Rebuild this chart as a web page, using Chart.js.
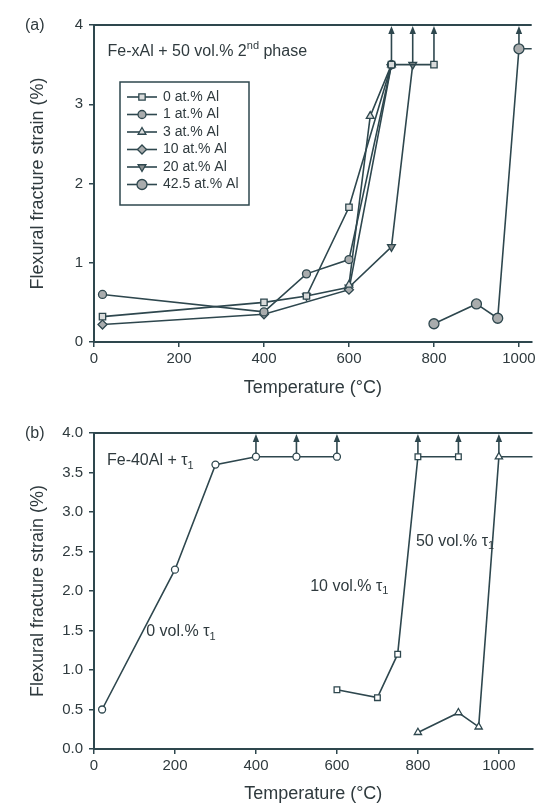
<!DOCTYPE html>
<html><head><meta charset="utf-8">
<script src="https://cdn.jsdelivr.net/npm/chart.js@4.4.1/dist/chart.umd.min.js"></script>
<style>
html,body{margin:0;padding:0;background:#fff;}
#wrap{position:relative;width:538px;height:805px;overflow:hidden;background:#fff;}
canvas{position:absolute;left:0;}
</style></head><body>
<div id="wrap">
<canvas id="ca" width="538" height="400" style="top:0px"></canvas>
<canvas id="cb" width="538" height="405" style="top:400px"></canvas>
</div>
<script>
// ---------- data ----------
const xTicks = [0, 200, 400, 600, 800, 1000];
const yTicksA = [0, 1, 2, 3, 4];
const yTicksB = [0, 0.5, 1, 1.5, 2, 2.5, 3, 3.5, 4];

// panel (a): Fe-xAl + 50 vol.% 2nd phase
const labelsA = ['0 at.% Al', '1 at.% Al', '3 at.% Al', '10 at.% Al', '20 at.% Al', '42.5 at.% Al'];
const tempA0 = [20, 400, 500, 600, 700, 800];   const strainA0 = [0.32, 0.50, 0.58, 1.70, 3.50, 3.50];
const tempA1 = [20, 400, 500, 600, 700];        const strainA1 = [0.60, 0.38, 0.86, 1.04, 3.50];
const tempA3 = [600, 650, 700];                 const strainA3 = [0.72, 2.85, 3.50];
const tempA10 = [20, 400, 600, 700];            const strainA10 = [0.22, 0.35, 0.66, 3.50];
const tempA20 = [500, 600, 700, 750];           const strainA20 = [0.58, 0.69, 1.20, 3.50];
const tempA42 = [800, 900, 950, 1000, 1100];    const strainA42 = [0.23, 0.48, 0.30, 3.70, 3.70];
const arrowTempA = [700, 750, 800, 1000];
const arrowStrainA = [3.5, 3.5, 3.5, 3.7];

// panel (b): Fe-40Al + tau1
const tempB0 = [20, 200, 300, 400, 500, 600];   const strainB0 = [0.50, 2.27, 3.60, 3.70, 3.70, 3.70];
const tempB10 = [600, 700, 750, 800, 900];      const strainB10 = [0.75, 0.65, 1.20, 3.70, 3.70];
const tempB50 = [800, 900, 950, 1000, 1100];    const strainB50 = [0.21, 0.46, 0.28, 3.70, 3.70];
const arrowTempB = [400, 500, 600, 800, 900, 1000];
const arrowStrainB = [3.7, 3.7, 3.7, 3.7, 3.7, 3.7];

// ---------- style ----------
const LINE = '#2e474e';
const TEXT = '#2f3a3e';
const FONT = "'Liberation Sans', Arial, Helvetica, sans-serif";

function pts(xs, ys) { return xs.map((x, i) => ({x: x, y: ys[i]})); }

function ds(label, xs, ys, style, radius, fill, rot) {
  return {
    label: label, data: pts(xs, ys), borderColor: LINE, borderWidth: 1.6,
    pointStyle: style, pointRadius: radius, pointBackgroundColor: fill,
    pointBorderColor: LINE, pointBorderWidth: 1.3, pointRotation: rot || 0,
    tension: 0, fill: false
  };
}

function drawText(ctx, parts, x, y, size) {
  // parts: [text, mode] mode: 'n' normal, 'sub', 'sup'
  let cx = x;
  ctx.textBaseline = 'middle';
  ctx.textAlign = 'left';
  ctx.fillStyle = TEXT;
  for (const [t, m] of parts) {
    const s = m === 'n' ? size : Math.round(size * 0.68);
    const dy = m === 'sub' ? size * 0.32 : (m === 'sup' ? -size * 0.35 : 0);
    ctx.font = s + 'px ' + FONT;
    ctx.fillText(t, cx, y + dy);
    cx += ctx.measureText(t).width;
  }
}

function extrasPlugin(opts) {
  return {
    id: 'extras',
    beforeDatasetsDraw(chart) {
      const ctx = chart.ctx, xs = chart.scales.x, ys = chart.scales.y, top = chart.chartArea.top;
      ctx.save();
      ctx.strokeStyle = LINE; ctx.fillStyle = LINE; ctx.lineWidth = 1.6;
      opts.arrowT.forEach((t, i) => {
        const px = xs.getPixelForValue(t), py = ys.getPixelForValue(opts.arrowS[i]);
        ctx.beginPath(); ctx.moveTo(px, py); ctx.lineTo(px, top + 6); ctx.stroke();
        ctx.beginPath(); ctx.moveTo(px, top + 1); ctx.lineTo(px - 3.2, top + 9); ctx.lineTo(px + 3.2, top + 9);
        ctx.closePath(); ctx.fill();
      });
      ctx.restore();
    },
    afterDraw(chart) {
      const ctx = chart.ctx, a = chart.chartArea, xs = chart.scales.x, ys = chart.scales.y;
      ctx.save();
      // top frame line
      ctx.strokeStyle = LINE; ctx.lineWidth = 2;
      ctx.beginPath(); ctx.moveTo(a.left - 1, a.top); ctx.lineTo(a.right, a.top); ctx.stroke();
      // panel letter
      drawText(ctx, [[opts.letter, 'n']], 25, a.top + 1, 16);
      // annotations
      opts.notes.forEach(n => drawText(ctx, n.parts, xs.getPixelForValue(n.x), ys.getPixelForValue(n.y), n.size));
      // legend
      if (opts.legend) {
        const L = a.left + 26, T = a.top + 57, W = 129, H = 123, rowH = 17.5;
        ctx.strokeStyle = LINE; ctx.lineWidth = 1.5;
        ctx.strokeRect(L, T, W, H);
        chart.data.datasets.forEach((d, i) => {
          const y = T + 15 + i * rowH, x0 = L + 7, x1 = L + 37, xm = (x0 + x1) / 2;
          ctx.strokeStyle = LINE; ctx.lineWidth = 1.6;
          ctx.beginPath(); ctx.moveTo(x0, y); ctx.lineTo(x1, y); ctx.stroke();
          ctx.fillStyle = d.pointBackgroundColor; ctx.strokeStyle = LINE; ctx.lineWidth = 1.3;
          Chart.helpers.drawPoint(ctx, {pointStyle: d.pointStyle, radius: d.pointRadius, rotation: d.pointRotation, borderWidth: 1.3}, xm, y);
          drawText(ctx, [[d.label, 'n']], L + 43, y, 14);
        });
      }
      ctx.restore();
    }
  };
}

function makeChart(id, datasets, xMax, yTicks, yFmt, topPad, xH, xTitlePad, opts) {
  return new Chart(document.getElementById(id), {
    type: 'line',
    data: {datasets: datasets},
    options: {
      responsive: false, animation: false, devicePixelRatio: 1,
      layout: {padding: {top: topPad, left: 0, right: 0, bottom: 0}},
      plugins: {legend: {display: false}, tooltip: {enabled: false}},
      scales: {
        x: {
          type: 'linear', min: 0, max: xMax,
          afterBuildTicks: s => { s.ticks = xTicks.map(v => ({value: v})); },
          afterFit: s => { s.height = xH; s.paddingLeft = 0; s.paddingRight = 0; },
          ticks: {color: TEXT, font: {family: FONT, size: 15}, padding: 3, maxRotation: 0, callback: v => String(v)},
          grid: {drawOnChartArea: false, drawTicks: true, tickLength: 5, color: LINE, lineWidth: 1.5},
          border: {display: true, color: LINE, width: 2},
          title: {display: true, text: 'Temperature (°C)', color: TEXT, font: {family: FONT, size: 18}, padding: {top: 0, bottom: xTitlePad}}
        },
        y: {
          type: 'linear', min: 0, max: 4,
          afterBuildTicks: s => { s.ticks = yTicks.map(v => ({value: v})); },
          afterFit: s => { s.width = 94; },
          ticks: {color: TEXT, font: {family: FONT, size: 15}, padding: 6, callback: yFmt},
          grid: {drawOnChartArea: false, drawTicks: true, tickLength: 5, color: LINE, lineWidth: 1.5},
          border: {display: true, color: LINE, width: 2},
          title: {display: true, text: 'Flexural fracture strain (%)', color: TEXT, font: {family: FONT, size: 18}, padding: {top: 27, bottom: 0}}
        }
      }
    },
    plugins: [extrasPlugin(opts)]
  });
}

const GREY = '#a9acad', LIGHT = '#d9dbdb', WHITE = '#ffffff';

makeChart('ca', [
  ds(labelsA[0], tempA0, strainA0, 'rect', 4.5, LIGHT),
  ds(labelsA[1], tempA1, strainA1, 'circle', 4, GREY),
  ds(labelsA[2], tempA3, strainA3, 'triangle', 4.5, LIGHT),
  ds(labelsA[3], tempA10, strainA10, 'rectRot', 4.5, GREY),
  ds(labelsA[4], tempA20, strainA20, 'triangle', 4.5, '#8a8f90', 180),
  ds(labelsA[5], tempA42, strainA42, 'circle', 5, GREY)
], 1030, yTicksA, v => String(v), 25, 58, 1, {
  letter: '(a)', arrowT: arrowTempA, arrowS: arrowStrainA, legend: true,
  notes: [{x: 32, y: 3.67, size: 16, parts: [['Fe-xAl + 50 vol.% 2', 'n'], ['nd', 'sup'], [' phase', 'n']]}]
});

makeChart('cb', [
  ds('0 vol.% τ1', tempB0, strainB0, 'circle', 3.5, WHITE),
  ds('10 vol.% τ1', tempB10, strainB10, 'rect', 4, WHITE),
  ds('50 vol.% τ1', tempB50, strainB50, 'triangle', 4.2, WHITE)
], 1083, yTicksB, v => Number(v).toFixed(1), 33, 56, 0, {
  letter: '(b)', arrowT: arrowTempB, arrowS: arrowStrainB, legend: false,
  notes: [
    {x: 32, y: 3.65, size: 16, parts: [['Fe-40Al + τ', 'n'], ['1', 'sub']]},
    {x: 795, y: 2.63, size: 16, parts: [['50 vol.% τ', 'n'], ['1', 'sub']]},
    {x: 534, y: 2.06, size: 16, parts: [['10 vol.% τ', 'n'], ['1', 'sub']]},
    {x: 129, y: 1.48, size: 16, parts: [['0 vol.% τ', 'n'], ['1', 'sub']]}
  ]
});
</script>
</body></html>
